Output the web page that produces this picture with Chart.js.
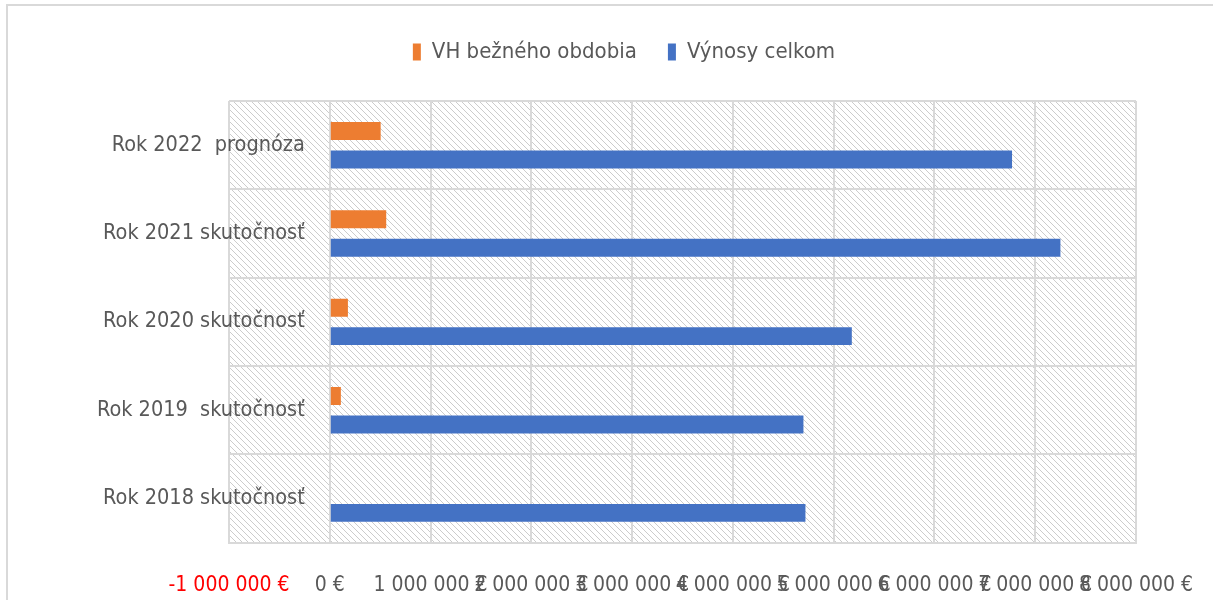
<!DOCTYPE html>
<html>
<head>
<meta charset="utf-8">
<script src="https://cdn.jsdelivr.net/npm/chart.js@4/dist/chart.umd.min.js"></script>
<style>
  html, body { margin: 0; padding: 0; background: #fff; }
  #wrap { position: relative; width: 1213px; height: 600px; }
  #frame { position: absolute; left: 6px; top: 4px; width: 1220px; height: 620px;
           border-top: 2px solid #d9d9d9; border-left: 2px solid #d9d9d9; }
  canvas { position: absolute; left: 0; top: 0; }
</style>
</head>
<body>
<div id="wrap">
  <div id="frame"></div>
  <canvas id="chart" width="1213" height="600"></canvas>
</div>
<script>
//-----------------------------------------------------------------------------
// Data
const categories = ['Rok 2022  prognóza', 'Rok 2021 skutočnosť', 'Rok 2020 skutočnosť', 'Rok 2019  skutočnosť', 'Rok 2018 skutočnosť'];
const seriesNames = ['VH bežného obdobia', 'Výnosy celkom'];
const vhValues = [505000, 560000, 180000, 110000, 0];
const vynosyValues = [6770000, 7250000, 5180000, 4700000, 4720000];
const xTicks = [-1000000, 0, 1000000, 2000000, 3000000, 4000000, 5000000, 6000000, 7000000, 8000000];

const FONT = "'Liberation Sans Narrow', 'DejaVu Sans Condensed', sans-serif";
const TEXT = '#595959';
const GRID = '#d9d9d9';

function fmtEuro(v) {
  const s = String(Math.abs(v)).replace(/\B(?=(\d{3})+(?!\d))/g, ' ');
  return (v < 0 ? '-' : '') + s + ' €';
}

// hatch pattern for the plot area
function makeHatch() {
  const c = document.createElement('canvas');
  c.width = 6; c.height = 6;
  const g = c.getContext('2d');
  g.strokeStyle = '#cccccc';
  g.lineWidth = 1;
  g.beginPath();
  g.moveTo(-1, -1); g.lineTo(7, 7);
  g.moveTo(5, -1); g.lineTo(7, 1);
  g.moveTo(-1, 5); g.lineTo(1, 7);
  g.stroke();
  return c;
}

const hatchPlugin = {
  id: 'hatchBg',
  beforeDraw(chart) {
    const {ctx, chartArea: a} = chart;
    ctx.save();
    ctx.fillStyle = ctx.createPattern(makeHatch(), 'repeat');
    ctx.fillRect(a.left, a.top, a.right - a.left, a.bottom - a.top);
    ctx.restore();
  }
};

// category labels sit next to the 0 line, like Excel does
const catLabels = {
  id: 'catLabels',
  afterDatasetsDraw(chart) {
    const {ctx, scales: {x, y}} = chart;
    const x0 = x.getPixelForValue(0) - 25;
    ctx.save();
    ctx.font = '21.5px ' + FONT;
    ctx.fillStyle = TEXT;
    ctx.textAlign = 'right';
    ctx.textBaseline = 'middle';
    categories.forEach(function(c, i) {
      ctx.fillText(c, x0, y.getPixelForValue(i));
    });
    ctx.restore();
  }
};

new Chart(document.getElementById('chart'), {
  type: 'bar',
  data: {
    labels: categories,
    datasets: [
      { label: seriesNames[0], data: vhValues, backgroundColor: '#ED7D31',
        categoryPercentage: 0.645, barPercentage: 0.63 },
      { label: seriesNames[1], data: vynosyValues, backgroundColor: '#4472C4',
        categoryPercentage: 0.645, barPercentage: 0.63 }
    ]
  },
  options: {
    indexAxis: 'y',
    responsive: false,
    animation: false,
    layout: { padding: { left: 112, right: 77, top: 10, bottom: -28 } },
    plugins: {
      legend: {
        position: 'top',
        labels: {
          font: { family: FONT, size: 22 },
          color: TEXT,
          boxWidth: 8,
          boxHeight: 17,
          padding: 31
        }
      },
      title: {
        // spacer between legend and plot area
        display: true,
        text: '',
        weight: 500,
        font: { size: 10, lineHeight: 1 },
        padding: { top: 9, bottom: 9 }
      },
      tooltip: { enabled: false }
    },
    scales: {
      x: {
        min: -1000000,
        max: 8000000,
        afterBuildTicks(scale) { scale.ticks = xTicks.map(v => ({ value: v })); },
        afterFit(scale) { scale.paddingLeft = 0; scale.paddingRight = 0; },
        grid: { color: GRID, lineWidth: 2, drawTicks: false },
        border: { color: GRID, width: 2 },
        ticks: {
          autoSkip: false,
          maxRotation: 0,
          padding: 30,
          font: { family: FONT, size: 21 },
          color: (c) => (c.tick && c.tick.value < 0 ? '#ff0000' : TEXT),
          callback: (v) => fmtEuro(v)
        }
      },
      y: {
        position: 'left',
        afterFit(scale) { scale.width = 117; },
        grid: { color: GRID, lineWidth: 2, drawTicks: false },
        border: { display: false },
        ticks: { display: false }
      }
    }
  },
  plugins: [hatchPlugin, catLabels]
});
</script>
</body>
</html>
